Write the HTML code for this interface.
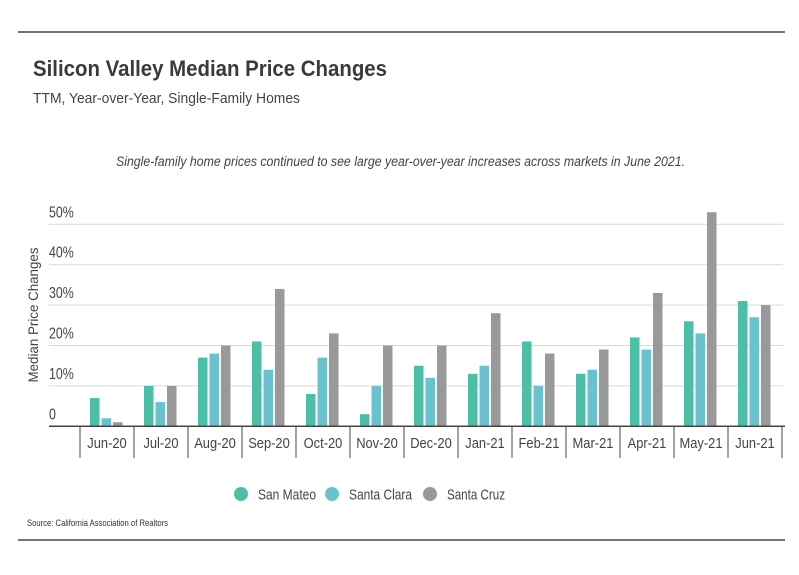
<!DOCTYPE html>
<html><head><meta charset="utf-8"><style>
html,body{margin:0;padding:0;background:#fff;}
svg{display:block;font-family:"Liberation Sans Narrow","Liberation Sans",sans-serif;}
</style></head><body>
<svg id="chart" width="799" height="575" viewBox="0 0 799 575">
<line x1="18" y1="32" x2="785" y2="32" stroke="#222" stroke-width="1.2"/>
<text x="33" y="76" font-size="22" font-weight="bold" fill="#3a3a3a" textLength="354" lengthAdjust="spacingAndGlyphs">Silicon Valley Median Price Changes</text>
<text x="33" y="103" font-size="15" fill="#444" textLength="267" lengthAdjust="spacingAndGlyphs">TTM, Year-over-Year, Single-Family Homes</text>
<text x="116" y="166" font-size="13.5" font-style="italic" fill="#444" textLength="569" lengthAdjust="spacingAndGlyphs">Single-family home prices continued to see large year-over-year increases across markets in June 2021.</text>
<text transform="translate(38,315) rotate(-90)" text-anchor="middle" font-size="14" fill="#444" textLength="135" lengthAdjust="spacingAndGlyphs">Median Price Changes</text>
<g id="grid"></g><g id="bars"></g><g id="xaxis"></g>
<g>
<circle cx="241" cy="494" r="7" fill="#4dbfa6"/>
<text x="258" y="499.5" font-size="15" fill="#444" textLength="58" lengthAdjust="spacingAndGlyphs">San Mateo</text>
<circle cx="332" cy="494" r="7" fill="#6bc2cf"/>
<text x="349" y="499.5" font-size="15" fill="#444" textLength="63" lengthAdjust="spacingAndGlyphs">Santa Clara</text>
<circle cx="430" cy="494" r="7" fill="#999"/>
<text x="447" y="499.5" font-size="15" fill="#444" textLength="58" lengthAdjust="spacingAndGlyphs">Santa Cruz</text>
</g>
<text x="27" y="526" font-size="9" fill="#333" textLength="141" lengthAdjust="spacingAndGlyphs">Source:  California Association of Realtors</text>
<line x1="18" y1="540" x2="785" y2="540" stroke="#222" stroke-width="1.2"/>
</svg>
<script>
const categories=["Jun-20","Jul-20","Aug-20","Sep-20","Oct-20","Nov-20","Dec-20","Jan-21","Feb-21","Mar-21","Apr-21","May-21","Jun-21"];
const sanMateo=[7,10,17,21,8,3,15,13,21,13,22,26,31];
const santaClara=[2,6,18,14,17,10,12,15,10,14,19,23,27];
const santaCruz=[1,10,20,34,23,20,20,28,18,19,33,53,30];
const yTicks=[0,10,20,30,40,50];
const yTickLabels=["0","10%","20%","30%","40%","50%"];
const NS="http://www.w3.org/2000/svg";
const y0=426.3,pxPer=4.04,xStart=80,catW=54;
const y=v=>y0-v*pxPer;
const x=i=>xStart+i*catW;
function mk(tag,attrs,parent){const e=document.createElementNS(NS,tag);for(const k in attrs)e.setAttribute(k,attrs[k]);parent.appendChild(e);return e;}
function squeeze(el,f){const w=el.getComputedTextLength();el.setAttribute('textLength',(w*f).toFixed(1));el.setAttribute('lengthAdjust','spacingAndGlyphs');}
const grid=document.getElementById('grid'),bars=document.getElementById('bars'),xa=document.getElementById('xaxis');
yTicks.forEach((t,i)=>{
  if(t>0){const l=mk('line',{x1:49,x2:783,y1:y(t),y2:y(t),stroke:'#d9d9d9','stroke-width':1},grid);
  
  }
  const tx=mk('text',{x:49,y:y(t)-7,'font-size':15.5,fill:'#444'},grid);
  tx.textContent=yTickLabels[i];
  
  
  squeeze(tx,0.8);
});
const series=[[sanMateo,'#4dbfa6','san-mateo'],[santaClara,'#6bc2cf','santa-clara'],[santaCruz,'#999999','santa-cruz']];
categories.forEach((c,i)=>{
  series.forEach((s,j)=>{
    const v=s[0][i];
    const r=mk('rect',{x:x(i)+10+j*11.5,y:y(v),width:9.5,height:y0-y(v),fill:s[1]},bars);
    
    
  });
  const t=mk('text',{x:x(i)+catW/2,y:448,'text-anchor':'middle','font-size':15,fill:'#444'},xa);
  t.textContent=c;
  
  
  squeeze(t,0.86);
});
for(let i=0;i<=categories.length;i++){
  const d=mk('line',{x1:x(i),x2:x(i),y1:426,y2:458,stroke:'#444','stroke-width':1},xa);
  
  
}
const base=mk('line',{x1:49,x2:785,y1:y0,y2:y0,stroke:'#444','stroke-width':1.5},xa);


</script>
</body></html>
